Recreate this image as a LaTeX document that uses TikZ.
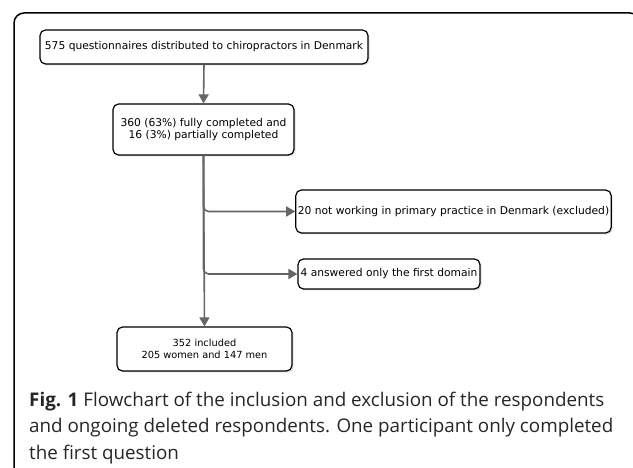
\documentclass[tikz,border=0pt]{standalone}
\usepackage{fontspec}
\setmainfont{DejaVu Sans}
\newfontfamily\capfont{Open Sans}
\usetikzlibrary{shadows,arrows.meta}
\begin{document}
\begin{tikzpicture}[x=1pt,y=-1pt]
		\tikzstyle{all} = [draw, line width=1.2pt, align=center, font=\fontsize{10.7}{12.5}\selectfont]
		\tikzstyle{block} = [rectangle, all, inner sep=2pt, rounded corners=5.5pt, fill=white,
			drop shadow={shadow xshift=1.5pt, shadow yshift=-1.5pt, opacity=.25}]
		\tikzstyle{conn} = [draw=black!60, line width=1.6pt, -{Triangle[length=9pt,width=10pt]}]
		\useasboundingbox (0,0) rectangle (633,468);
		% frame
		\draw[line width=1.5pt, rounded corners=10pt] (14,470) -- (14,13) -- (640,13) -- (640,470);
		% boxes
		\node[block, minimum width=328pt, minimum height=34pt] (dist) at (204,47)
			{575 questionnaires distributed to chiropractors in Denmark};
		\node[block, minimum width=181pt, minimum height=51pt] (compl) at (203.5,129.5)
			{360 (63\%) fully completed and\\16 (3\%) partially completed};
		\node[block, minimum width=311pt, minimum height=43pt] (excl) at (453.5,211.5)
			{20 not working in primary practice in Denmark (excluded)};
		\node[block, minimum width=182pt, minimum height=30pt] (first) at (389,274)
			{4 answered only the first domain};
		\node[block, minimum width=175pt, minimum height=44pt, font=\fontsize{9.8}{12}\selectfont] (incl) at (204.5,349)
			{352 included\\205 women and 147 men};
		% connectors
		\draw[conn] (dist.south) -- (compl.north);
		\draw[conn] (compl.south) -- (incl.north);
		\draw[conn, rounded corners=5pt] (compl.south) |- (excl.west);
		\draw[conn, rounded corners=5pt] (compl.south) |- (first.west);
		% caption
		\node[anchor=north west, align=left, inner sep=0pt, text=black!85,
			font=\capfont\fontsize{18.8}{26.5}\selectfont] (cap) at (29,391.5)
			{\textbf{Fig. 1} Flowchart of the inclusion and exclusion of the respondents\\
			and ongoing deleted respondents. One participant only completed\\
			the first question};
\end{tikzpicture}
\end{document}
